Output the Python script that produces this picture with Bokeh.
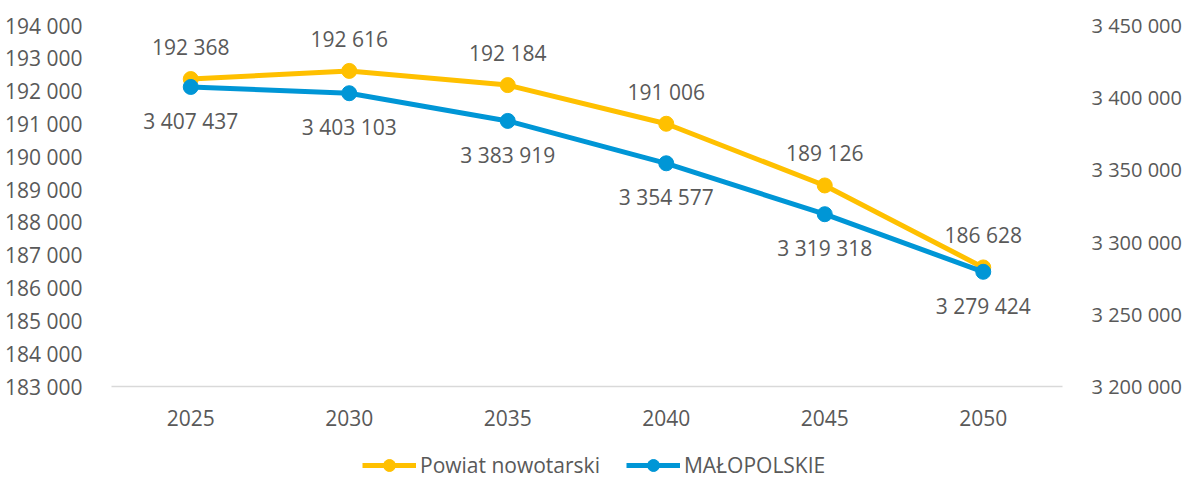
from bokeh.plotting import figure
from bokeh.layouts import column
from bokeh.models import (FactorRange, Range1d, LinearAxis, FixedTicker, Legend,
                          LegendItem, ColumnDataSource)
from bokeh.embed import file_html
from bokeh.resources import INLINE
from bokeh.core.properties import value

# ---- data ----
years = ["2025", "2030", "2035", "2040", "2045", "2050"]
powiat = [192368, 192616, 192184, 191006, 189126, 186628]
malopolskie = [3407437, 3403103, 3383919, 3354577, 3319318, 3279424]
left_ticks = [183000, 184000, 185000, 186000, 187000, 188000, 189000,
              190000, 191000, 192000, 193000, 194000]
right_ticks = [3200000, 3250000, 3300000, 3350000, 3400000, 3450000]
series_names = ["Powiat nowotarski", "MAŁOPOLSKIE"]


def fmt(v):
    return f"{v:,}".replace(",", " ")


FONT = "Open Sans"
FSIZE = "21px"
TXT = "#595959"
YEL = "#FFC000"
BLU = "#0096D6"

xr = FactorRange(*years, range_padding=0)

p = figure(width=1184, height=440, output_backend="svg", toolbar_location=None,
           x_range=xr, y_range=Range1d(183000, 194000),
           min_border_left=111, min_border_right=121,
           min_border_top=25, min_border_bottom=54)
p.extra_y_ranges = {"right": Range1d(3200000, 3450000)}
p.outline_line_color = None
p.xgrid.visible = False
p.ygrid.visible = False

# left axis
ya = p.yaxis[0]
ya.ticker = FixedTicker(ticks=left_ticks)
ya.major_label_overrides = {t: fmt(t) for t in left_ticks}
ya.axis_line_color = None
ya.major_tick_line_color = None
ya.minor_tick_line_color = None
ya.major_label_standoff = 23
ya.major_label_text_font = FONT
ya.major_label_text_font_size = FSIZE
ya.major_label_text_color = TXT

# right axis
ra = LinearAxis(y_range_name="right", ticker=FixedTicker(ticks=right_ticks))
ra.major_label_overrides = {t: fmt(t) for t in right_ticks}
ra.axis_line_color = None
ra.major_tick_line_color = None
ra.minor_tick_line_color = None
ra.major_label_standoff = 23
ra.major_label_text_font = FONT
ra.major_label_text_font_size = "20px"
ra.major_label_text_color = TXT
p.add_layout(ra, "right")

# x axis
xa = p.xaxis[0]
xa.axis_line_color = "#D9D9D9"
xa.axis_line_width = 1.3
xa.major_tick_line_color = None
xa.minor_tick_line_color = None
xa.major_label_standoff = 17
xa.major_label_text_font = FONT
xa.major_label_text_font_size = FSIZE
xa.major_label_text_color = TXT

src_p = ColumnDataSource(dict(x=years, y=powiat, lab=[fmt(v) for v in powiat]))
src_m = ColumnDataSource(dict(x=years, y=malopolskie, lab=[fmt(v) for v in malopolskie]))

p.line("x", "y", source=src_p, line_color=YEL, line_width=5)
p.scatter("x", "y", source=src_p, size=15, fill_color=YEL, line_color=YEL)
p.line("x", "y", source=src_m, line_color=BLU, line_width=5, y_range_name="right")
p.scatter("x", "y", source=src_m, size=15, fill_color=BLU, line_color=BLU,
          y_range_name="right")

p.text("x", "y", text="lab", source=src_p, y_offset=-32, text_align="center",
       text_baseline="middle", text_font=value(FONT), text_font_size=FSIZE,
       text_color=TXT)
p.text("x", "y", text="lab", source=src_m, y_offset=34, text_align="center",
       text_baseline="middle", text_font=value(FONT), text_font_size=FSIZE,
       text_color=TXT, y_range_name="right")

# ---- legend strip below the chart (its series lie outside its visible range) ----
lg = figure(width=1184, height=40, output_backend="svg", toolbar_location=None,
            x_range=xr, y_range=Range1d(0, 1),
            x_axis_type=None, y_axis_type=None, min_border=0)
lg.outline_line_color = None
lg.xgrid.visible = False
lg.ygrid.visible = False
l1 = lg.line("x", "y", source=src_p, line_color=YEL, line_width=5)
m1 = lg.scatter("x", "y", source=src_p, fill_color=YEL, line_color=YEL)
l2 = lg.line("x", "y", source=src_m, line_color=BLU, line_width=5)
m2 = lg.scatter("x", "y", source=src_m, fill_color=BLU, line_color=BLU)

legend = Legend(items=[LegendItem(label=series_names[0], renderers=[l1, m1]),
                       LegendItem(label=series_names[1], renderers=[l2, m2])],
                orientation="horizontal", location=(251, 0),
                glyph_width=54, glyph_height=30, label_standoff=4, spacing=26,
                padding=0, margin=0, border_line_color=None,
                background_fill_alpha=0,
                label_text_font=FONT, label_text_font_size=FSIZE,
                label_text_color=TXT)
lg.add_layout(legend, "center")

layout = column(p, lg, spacing=0)
open("out.html", "w").write(file_html(layout, INLINE))
